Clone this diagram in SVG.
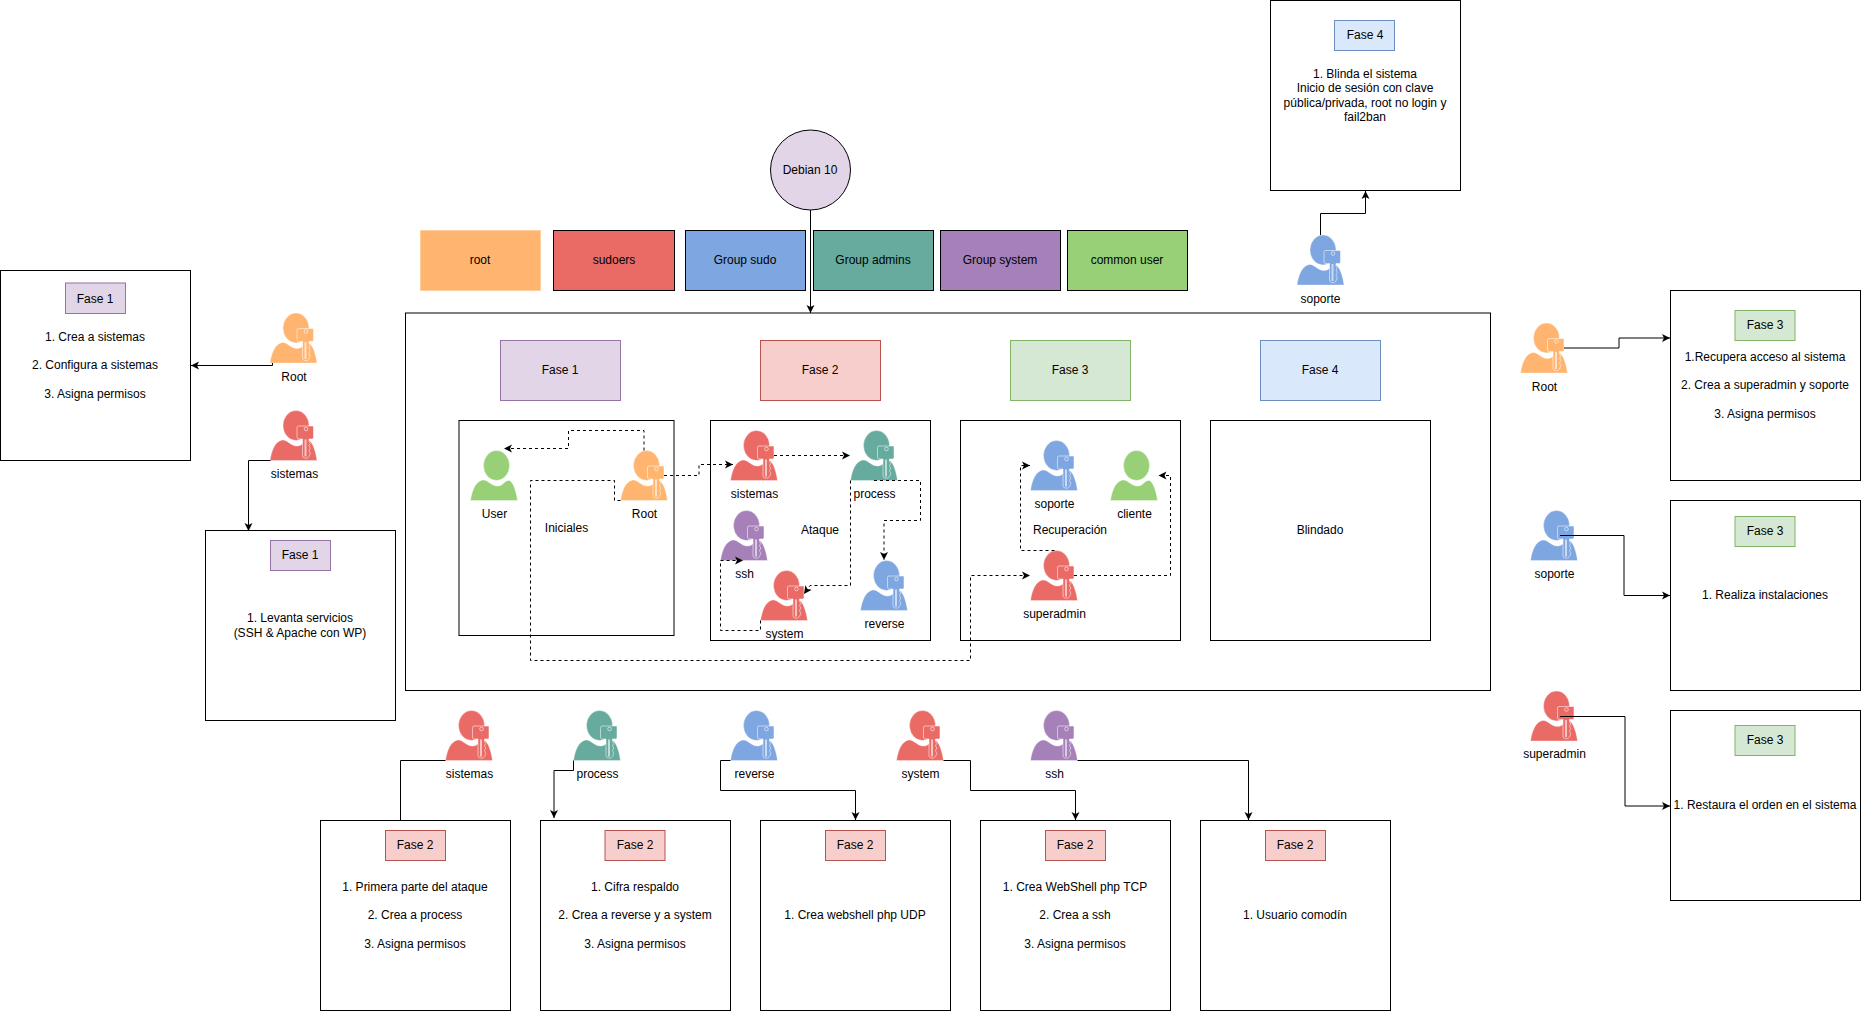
<svg xmlns="http://www.w3.org/2000/svg" xmlns:xlink="http://www.w3.org/1999/xlink" width="1861" height="1011" viewBox="0 0 1861 1011">
<style>
text{font-family:"Liberation Sans",Arial,sans-serif;font-size:12px;fill:#000;text-anchor:middle}
.b{fill:#fff;stroke:#000;stroke-width:1}
.c{fill:none;stroke:#000;stroke-width:1}
.a{marker-end:url(#ar)}
.d{stroke-dasharray:3 3}
.f1{fill:#e1d5e7;stroke:#9673a6}
.f2{fill:#f8cecc;stroke:#b85450}
.f3{fill:#d5e8d4;stroke:#82b366}
.f4{fill:#dae8fc;stroke:#6c8ebf}
.leg{stroke:#000}
.or{color:#FFB570}.re{color:#EA6B66}.bl{color:#7EA6E0}.te{color:#67AB9F}.pu{color:#A680B8}.gr{color:#97D077}
</style>
<defs>
<marker id="ar" markerUnits="userSpaceOnUse" markerWidth="9" markerHeight="10" refX="8" refY="4.5" orient="auto"><path d="M0,0.5 L8,4.5 L0,8.5 L2,4.5 Z" fill="#000"/></marker>
<g id="body"><ellipse cx="26" cy="15" rx="13" ry="15" fill="currentColor" stroke="#fff" stroke-opacity=".5" stroke-width=".7"/><path d="M0,50 C1.5,40 5,31 12,29.500 C18,29 20,35.500 27,35.500 C33,35.500 34,29.500 39,30 C43,32 46,42 47,50 Z" fill="currentColor" stroke="#fff" stroke-opacity=".5" stroke-width=".7"/></g>
<symbol id="user" overflow="visible"><use xlink:href="#body" href="#body"/></symbol>
<symbol id="keyuser" overflow="visible"><use xlink:href="#body" href="#body"/><path d="M27,17 Q27,15.500 28.500,15.500 H43.500 V27 Q43.500,28.500 42,28.500 H39 V31 L40.300,33 L39,35 L40.300,37.500 L39,40 L40.300,43 L39,46 Q37.500,48.500 34.500,47.500 Q32.500,47 32.500,45 V28.500 H29 Q27,28.500 27,27 Z" fill="currentColor" stroke="#fff" stroke-opacity=".65" stroke-width=".8"/><path d="M35.500,29 V46" stroke="#fff" stroke-opacity=".6" stroke-width="2" fill="none"/><circle cx="36" cy="18.500" r="1.800" fill="none" stroke="#fff" stroke-opacity=".8" stroke-width=".7"/></symbol>
</defs>

<g id="main-box"><rect class="b" x="405.500" y="313" width="1085" height="377.500"/></g>
<g id="debian"><ellipse cx="810.500" cy="170" rx="40" ry="40" fill="#e1d5e7" stroke="#000"/><text x="810" y="174">Debian 10</text></g>

<g id="legend-root"><rect x="420.500" y="230.500" width="120" height="60" fill="#FFB570" stroke="#FFCE9F"/><text x="480" y="264">root</text></g>
<g id="legend-sudoers"><rect class="leg" x="553.500" y="230.500" width="121" height="60" fill="#EA6B66"/><text x="614" y="264">sudoers</text></g>
<g id="legend-sudo"><rect class="leg" x="685.500" y="230.500" width="120" height="60" fill="#7EA6E0"/><text x="745" y="264">Group sudo</text></g>
<g id="legend-admins"><rect class="leg" x="813.500" y="230.500" width="120" height="60" fill="#67AB9F"/><text x="873" y="264">Group admins</text></g>
<g id="legend-system"><rect class="leg" x="940.500" y="230.500" width="120" height="60" fill="#A680B8"/><text x="1000" y="264">Group system</text></g>
<g id="legend-common"><rect class="leg" x="1067.500" y="230.500" width="120" height="60" fill="#97D077"/><text x="1127" y="264">common user</text></g>

<g id="main-f1"><rect class="f1" x="500.500" y="340.500" width="120" height="60"/><text x="560" y="374">Fase 1</text></g>
<g id="main-f2"><rect class="f2" x="760.500" y="340.500" width="120" height="60"/><text x="820" y="374">Fase 2</text></g>
<g id="main-f3"><rect class="f3" x="1010.500" y="340.500" width="120" height="60"/><text x="1070" y="374">Fase 3</text></g>
<g id="main-f4"><rect class="f4" x="1260.500" y="340.500" width="120" height="60"/><text x="1320" y="374">Fase 4</text></g>

<g id="iniciales"><rect class="b" x="459" y="420.500" width="215" height="215"/><text x="566.500" y="532">Iniciales</text></g>
<g id="ataque"><rect class="b" x="710.500" y="420.500" width="220" height="220"/><text x="820" y="534">Ataque</text></g>
<g id="recuperacion"><rect class="b" x="960.500" y="420.500" width="220" height="220"/><text x="1070" y="534">Recuperación</text></g>
<g id="blindado"><rect class="b" x="1210.500" y="420.500" width="220" height="220"/><text x="1320" y="534">Blindado</text></g>

<g id="i-user" class="gr"><use href="#user" x="470.500" y="450.500"/><text x="494.500" y="518">User</text></g>
<g id="i-root" class="or"><use href="#keyuser" x="620.500" y="450.500"/><text x="644.500" y="518">Root</text></g>
<g id="a-sistemas" class="re"><use href="#keyuser" x="730.500" y="430.500"/><text x="754.500" y="498">sistemas</text></g>
<g id="a-process" class="te"><use href="#keyuser" x="850.500" y="430.500"/><text x="874.500" y="498">process</text></g>
<g id="a-ssh" class="pu"><use href="#keyuser" x="720.500" y="510.500"/><text x="744.500" y="578">ssh</text></g>
<g id="a-system" class="re"><use href="#keyuser" x="760.500" y="570.500"/><text x="784.500" y="638">system</text></g>
<g id="a-reverse" class="bl"><use href="#keyuser" x="860.500" y="560.500"/><text x="884.500" y="628">reverse</text></g>
<g id="r-soporte" class="bl"><use href="#keyuser" x="1030.500" y="440.500"/><text x="1054.500" y="508">soporte</text></g>
<g id="r-cliente" class="gr"><use href="#user" x="1110.500" y="450.500"/><text x="1134.500" y="518">cliente</text></g>
<g id="r-superadmin" class="re"><use href="#keyuser" x="1030.500" y="550.500"/><text x="1054.500" y="618">superadmin</text></g>

<g id="left-root" class="or"><use href="#keyuser" x="270" y="313"/><text x="294" y="381">Root</text></g>
<g id="left-sistemas" class="re"><use href="#keyuser" x="270" y="410.500"/><text x="294.500" y="478">sistemas</text></g>
<g id="top-soporte" class="bl"><use href="#keyuser" x="1297" y="235"/><text x="1320.500" y="303">soporte</text></g>
<g id="right-root" class="or"><use href="#keyuser" x="1520.500" y="323"/><text x="1544.500" y="391">Root</text></g>
<g id="right-soporte" class="bl"><use href="#keyuser" x="1530.500" y="510.500"/><text x="1554.500" y="578">soporte</text></g>
<g id="right-superadmin" class="re"><use href="#keyuser" x="1530.500" y="691"/><text x="1554.500" y="758">superadmin</text></g>
<g id="bot-sistemas" class="re"><use href="#keyuser" x="445.500" y="710.500"/><text x="469.500" y="778">sistemas</text></g>
<g id="bot-process" class="te"><use href="#keyuser" x="573.500" y="710.500"/><text x="597.500" y="778">process</text></g>
<g id="bot-reverse" class="bl"><use href="#keyuser" x="730.500" y="710.500"/><text x="754.500" y="778">reverse</text></g>
<g id="bot-system" class="re"><use href="#keyuser" x="896.500" y="710.500"/><text x="920.500" y="778">system</text></g>
<g id="bot-ssh" class="pu"><use href="#keyuser" x="1030.500" y="710.500"/><text x="1054.500" y="778">ssh</text></g>

<g id="box-l1"><rect class="b" x="0.500" y="270.500" width="190" height="190"/><rect class="f1" x="65.500" y="283" width="60" height="30.500"/><text x="95" y="302.500">Fase 1</text><text x="95" y="341">1. Crea a sistemas</text><text x="95" y="369">2. Configura a sistemas</text><text x="95" y="398">3. Asigna permisos</text></g>
<g id="box-l2"><rect class="b" x="205.500" y="530.500" width="190" height="190"/><rect class="f1" x="270.500" y="540.500" width="60" height="30"/><text x="300" y="559">Fase 1</text><text x="300" y="622">1. Levanta servicios</text><text x="300" y="637">(SSH &amp; Apache con WP)</text></g>
<g id="box-top"><rect class="b" x="1270.500" y="0.500" width="190" height="190"/><rect class="f4" x="1334.500" y="20.500" width="60" height="30"/><text x="1365" y="39">Fase 4</text><text x="1365" y="78">1. Blinda el sistema</text><text x="1365" y="92">Inicio de sesión con clave</text><text x="1365" y="107">pública/privada, root no login y</text><text x="1365" y="121">fail2ban</text></g>
<g id="box-r1"><rect class="b" x="1670.500" y="290.500" width="190" height="190"/><rect class="f3" x="1735" y="310.500" width="60" height="30"/><text x="1765" y="329">Fase 3</text><text x="1765" y="361">1.Recupera acceso al sistema</text><text x="1765" y="389">2. Crea a superadmin y soporte</text><text x="1765" y="418">3. Asigna permisos</text></g>
<g id="box-r2"><rect class="b" x="1670.500" y="500.500" width="190" height="190"/><rect class="f3" x="1735" y="516.500" width="60" height="30"/><text x="1765" y="535">Fase 3</text><text x="1765" y="599">1. Realiza instalaciones</text></g>
<g id="box-r3"><rect class="b" x="1670.500" y="710.500" width="190" height="190"/><rect class="f3" x="1735" y="725.500" width="60" height="30"/><text x="1765" y="744">Fase 3</text><text x="1765" y="809">1. Restaura el orden en el sistema</text></g>
<g id="box-b1"><rect class="b" x="320.500" y="820.500" width="190" height="190"/><rect class="f2" x="385.500" y="830.500" width="60" height="30"/><text x="415" y="849">Fase 2</text><text x="415" y="891">1. Primera parte del ataque</text><text x="415" y="919">2. Crea a process</text><text x="415" y="948">3. Asigna permisos</text></g>
<g id="box-b2"><rect class="b" x="540.500" y="820.500" width="190" height="190"/><rect class="f2" x="605" y="830.500" width="60" height="30"/><text x="635" y="849">Fase 2</text><text x="635" y="891">1. Cifra respaldo</text><text x="635" y="919">2. Crea a reverse y a system</text><text x="635" y="948">3. Asigna permisos</text></g>
<g id="box-b3"><rect class="b" x="760.500" y="820.500" width="190" height="190"/><rect class="f2" x="825.500" y="830.500" width="60" height="30"/><text x="855" y="849">Fase 2</text><text x="855" y="919">1. Crea webshell php UDP</text></g>
<g id="box-b4"><rect class="b" x="980.500" y="820.500" width="190" height="190"/><rect class="f2" x="1045.500" y="830.500" width="60" height="30"/><text x="1075" y="849">Fase 2</text><text x="1075" y="891">1. Crea WebShell php TCP</text><text x="1075" y="919">2. Crea a ssh</text><text x="1075" y="948">3. Asigna permisos</text></g>
<g id="box-b5"><rect class="b" x="1200.500" y="820.500" width="190" height="190"/><rect class="f2" x="1265.500" y="830.500" width="60" height="30"/><text x="1295" y="849">Fase 2</text><text x="1295" y="919">1. Usuario comodín</text></g>

<g id="connectors">
<path class="c a" d="M810.500,210V313"/>
<path class="c a" d="M1320.500,235V213.500H1365.500V191"/>
<path class="c a" d="M272.500,363V365.500H191"/>
<path class="c a" d="M270.500,460.500H248.500V531"/>
<path class="c" d="M445.500,760.500H400.500V820"/>
<path class="c a" d="M573.500,760.500V770.500H554V818"/>
<path class="c a" d="M730.500,760.500H720.500V790.500H855.500V820"/>
<path class="c a" d="M943.500,760.500H970.500V790.500H1075.500V820"/>
<path class="c a" d="M1077.500,760.500H1248.500V820"/>
<path class="c a" d="M1564,348H1619V338H1670"/>
<path class="c a" d="M1560,535.500H1624V595.500H1670"/>
<path class="c a" d="M1560,716.500H1625V806H1670"/>
<path class="c a d" d="M644,450.500V430.500H568.500V448.500H504"/>
<path class="c a d" d="M620.500,500.500H614.500V480.500H530.500V660.500H970.500V575.500H1030"/>
<path class="c a d" d="M664,475.500H699V464.500H733"/>
<path class="c a d" d="M774,455.500H850"/>
<path class="c a d" d="M874,480.500H920.500V520.500H884V560"/>
<path class="c a d" d="M850.500,480.500V585.500H810L804,594"/>
<path class="c a d" d="M760.500,620.500V630.500H720.500V560.500H743"/>
<path class="c a d" d="M1054.500,550.500H1020.500V465.500H1030"/>
<path class="c a d" d="M1074,575.500H1170.500V475.500H1158.500"/>
</g>
</svg>
